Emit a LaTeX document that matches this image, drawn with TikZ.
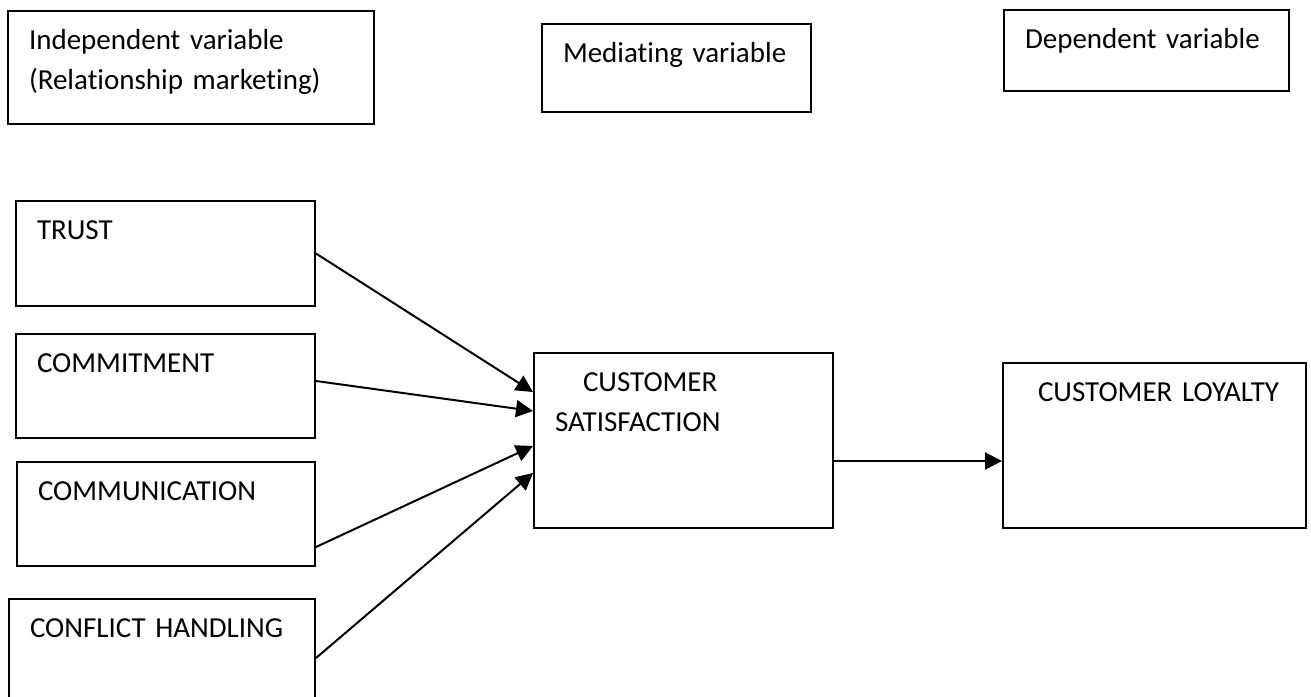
\documentclass[tikz,border=0pt]{standalone}
\usepackage{fontspec}
\setmainfont{Carlito}[RawFeature=-liga]
\usetikzlibrary{arrows.meta, positioning}

\begin{document}
\begin{tikzpicture}[
    x=0.5pt, y=-0.5pt,
    VB/.style args = {#1/#2}{
                    draw, line width=1pt,
                    anchor=north west,
                    text width=#1, text height=19pt, text depth=#2,
                    inner xsep=10.5pt, inner ysep=0pt,
                    align=left,
                    font=\fontsize{14.5}{20}\selectfont},
    line/.style = {line width=1pt,
                    draw=#1,% line color
                    -{Triangle[length=8.5pt,width=8.5pt,fill=#1]}}]
%---
\useasboundingbox (0,0) rectangle (1311,696);
\clip (0,0) rectangle (1311,696);
% top
\node (indep) [VB=162pt/37.5pt] at (7,10)    {Independent variable\\(Relationship marketing)};
\node (med)   [VB=113.5pt/25pt] at (541,23)  {Mediating variable};
\node (dep)   [VB=121.5pt/21.5pt] at (1003,9) {Dependent variable};
% left
\node (trust)  [VB=128.5pt/33.5pt] at (15,200) {TRUST};
\node (commit) [VB=128.5pt/33pt]   at (15,333) {COMMITMENT};
\node (commun) [VB=128pt/33pt]     at (16,461) {COMMUNICATION};
\node (confl)  [VB=132pt/33.5pt]   at (8,598)  {CONFLICT HANDLING};
% middle
\node (sat)   [VB=128.5pt/68.5pt] at (533,352)  {\hspace*{14pt}CUSTOMER\\SATISFACTION};
% right
\node (loyal) [VB=130.5pt/63.5pt] at (1002,362) {\hspace*{7pt}CUSTOMER LOYALTY};
% lines
\draw[line=black]   (trust.east) -- ([yshift=-20pt]sat.north west);
\draw[line=black]   ([yshift=-24pt]commit.north east) -- ([yshift=-29.5pt]sat.north west);
\draw[line=black]   ([yshift=-43pt]commun.north east) -- ([yshift=-47pt]sat.north west);
\draw[line=black]   ([yshift=-30pt]confl.north east) -- ([yshift=-60.5pt]sat.north west);
\draw[line=black]   ([yshift=-54.5pt]sat.north east) -- ([yshift=-49.5pt]loyal.north west);
\end{tikzpicture}
\end{document}
